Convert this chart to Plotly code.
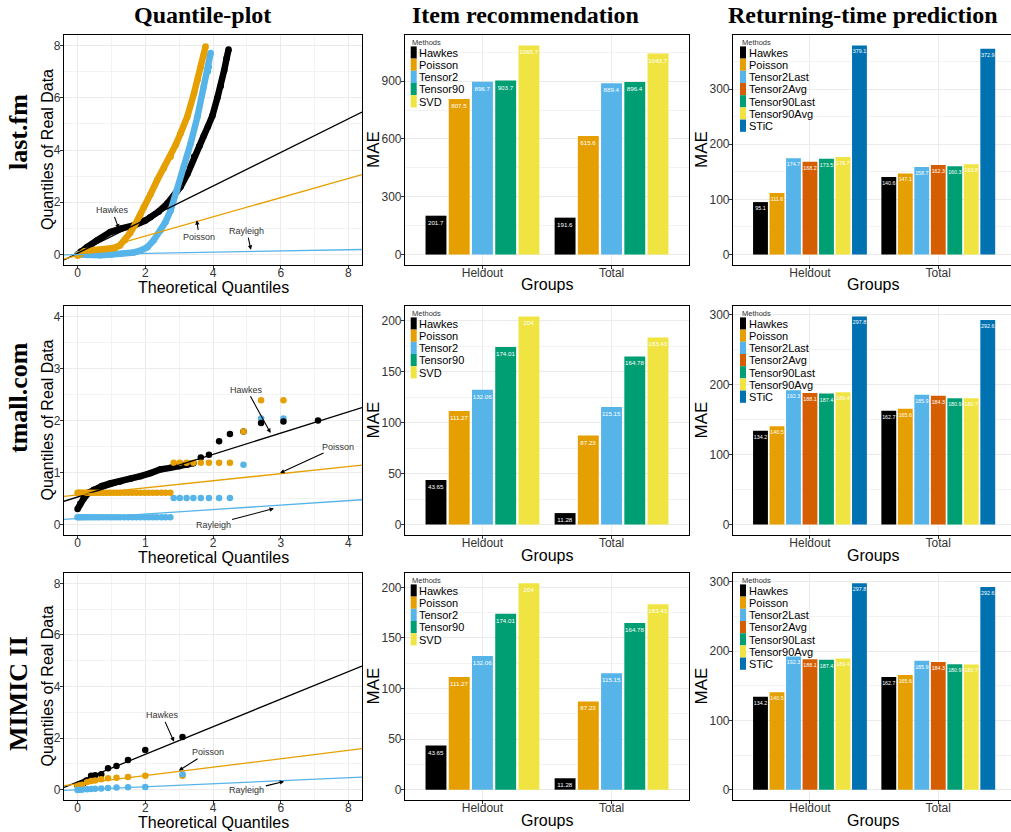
import plotly.graph_objects as go

W, H = 1011, 832

# ---------------- data ----------------
groups = ["Heldout", "Total"]
item_methods = ["Hawkes", "Poisson", "Tensor2", "Tensor90", "SVD"]
item_colors = ["#000000", "#E69F00", "#56B4E9", "#009E73", "#F0E442"]
ret_methods = ["Hawkes", "Poisson", "Tensor2Last", "Tensor2Avg", "Tensor90Last", "Tensor90Avg", "STiC"]
ret_colors = ["#000000", "#E69F00", "#56B4E9", "#D55E00", "#009E73", "#F0E442", "#0072B2"]

lastfm_item_heldout = [201.7, 807.5, 896.7, 903.7, 1085.7]
lastfm_item_total = [191.6, 615.6, 889.4, 896.4, 1043.7]
tmall_item_heldout = [43.65, 111.27, 132.06, 174.01, 204]
tmall_item_total = [11.28, 87.23, 115.15, 164.78, 183.43]
mimic_item_heldout = [43.65, 111.27, 132.06, 174.01, 204]
mimic_item_total = [11.28, 87.23, 115.15, 164.78, 183.43]

lastfm_ret_heldout = [95.1, 111.6, 174.7, 168.2, 173.5, 176.7, 379.1]
lastfm_ret_total = [140.6, 147.1, 158.7, 162.3, 160.3, 163.8, 372.9]
tmall_ret_heldout = [134.2, 140.5, 192.3, 188.1, 187.4, 189.4, 297.8]
tmall_ret_total = [162.7, 165.6, 185.9, 184.3, 180.9, 180.7, 292.6]
mimic_ret_heldout = [134.2, 140.5, 192.3, 188.1, 187.4, 189.4, 297.8]
mimic_ret_total = [162.7, 165.6, 185.9, 184.3, 180.9, 180.7, 292.6]

# QQ: last.fm
lf_hawkes_x = [0, 0.1, 0.28, 0.57, 0.97, 1.3, 1.66, 2.0, 2.15, 2.4, 2.65, 2.85, 3.04, 3.25, 3.44, 3.6, 3.73, 3.85, 3.98, 4.13, 4.23, 4.33, 4.4, 4.46]
lf_hawkes_y = [0, 0.12, 0.28, 0.54, 0.86, 1.0, 1.11, 1.3, 1.43, 1.65, 1.95, 2.25, 2.59, 3.1, 3.74, 4.15, 4.55, 4.9, 5.3, 6.0, 6.45, 7.05, 7.5, 7.85]
lf_poisson_x = [0, 0.2, 0.5, 0.8, 1.1, 1.25, 1.4, 1.55, 1.7, 1.85, 1.96, 2.15, 2.35, 2.55, 2.75, 2.9, 3.04, 3.24, 3.44, 3.55, 3.64, 3.72, 3.78]
lf_poisson_y = [-0.05, 0.12, 0.17, 0.2, 0.25, 0.35, 0.55, 0.82, 1.15, 1.5, 1.82, 2.3, 2.84, 3.3, 3.74, 4.2, 4.63, 5.27, 6.17, 6.7, 7.19, 7.6, 7.96]
lf_rayleigh_x = [0, 0.3, 0.67, 1.0, 1.3, 1.66, 1.85, 2.06, 2.25, 2.45, 2.6, 2.75, 2.94, 3.14, 3.34, 3.54, 3.73, 3.85, 3.88, 3.93]
lf_rayleigh_y = [0, -0.02, -0.03, 0.0, 0.03, 0.08, 0.15, 0.28, 0.55, 0.92, 1.25, 1.69, 2.46, 3.35, 4.25, 5.27, 6.43, 7.0, 7.19, 7.71]
lf_line_intercept = [0.05, -0.03, 0.0]     # Hawkes, Poisson, Rayleigh
lf_line_slope = [0.643, 0.368, 0.023]

# QQ: tmall.com
tm_hawkes_curve_x = [0, 0.04, 0.09, 0.16, 0.24, 0.36, 0.48, 0.63, 0.78, 0.93, 1.08, 1.22, 1.37, 1.5, 1.62, 1.71]
tm_hawkes_curve_y = [0.30, 0.40, 0.50, 0.61, 0.67, 0.74, 0.79, 0.83, 0.88, 0.93, 0.99, 1.06, 1.09, 1.12, 1.15, 1.18]
tm_hawkes_pts_x = [1.82, 1.94, 2.09, 2.25, 2.45, 2.71, 3.04, 3.55]
tm_hawkes_pts_y = [1.29, 1.34, 1.60, 1.74, 1.79, 1.95, 1.98, 2.00]
tm_low_x = [0, 0.02, 0.04, 0.07, 0.1, 0.13, 0.17, 0.21, 0.25, 0.29, 0.33, 0.38, 0.43, 0.48, 0.53, 0.58, 0.63, 0.69, 0.75, 0.81, 0.87, 0.93, 0.99, 1.05, 1.11, 1.17, 1.24, 1.3, 1.37]
tm_poisson_low_y = [0.61] * 29
tm_rayleigh_low_y = [0.14] * 29
tm_upper_x = [1.42, 1.51, 1.61, 1.71, 1.82, 1.94, 2.09, 2.25, 2.45, 2.71, 3.04]
tm_poisson_upper_y = [1.19, 1.19, 1.19, 1.19, 1.19, 1.19, 1.19, 1.19, 1.79, 2.39, 2.39]
tm_rayleigh_upper_y = [0.51, 0.51, 0.51, 0.51, 0.51, 0.51, 0.51, 0.51, 1.15, 2.04, 2.04]
tm_line_intercept = [0.53, 0.57, 0.116]
tm_line_slope = [0.409, 0.136, 0.086]

# QQ: MIMIC II
mm_hawkes_x = [0.0, 0.03, 0.13, 0.18, 0.26, 0.40, 0.52, 0.70, 0.90, 1.15, 1.49, 2.0, 3.10]
mm_hawkes_y = [0.15, 0.19, 0.24, 0.26, 0.36, 0.54, 0.56, 0.60, 0.83, 0.92, 1.15, 1.54, 2.04]
mm_poisson_x = [0.0, 0.03, 0.13, 0.28, 0.40, 0.52, 0.70, 0.90, 1.15, 1.49, 2.0, 3.10]
mm_poisson_y = [0.16, 0.17, 0.19, 0.30, 0.34, 0.36, 0.40, 0.44, 0.46, 0.49, 0.54, 0.54]
mm_rayleigh_x = [0.0, 0.03, 0.13, 0.28, 0.40, 0.52, 0.70, 0.90, 1.15, 1.49, 2.0, 3.10]
mm_rayleigh_y = [-0.01, 0.0, 0.0, 0.02, 0.03, 0.04, 0.05, 0.07, 0.08, 0.09, 0.10, 0.60]
mm_line_intercept = [0.3, 0.22, 0.0]
mm_line_slope = [0.535, 0.163, 0.058]

qq_labels = ["Hawkes", "Poisson", "Rayleigh"]
qq_colors = ["#000000", "#E69F00", "#56B4E9"]
# annotation (text position -> arrow head) per row
lf_annot = [(1.02, 1.69, 1.22, 0.99), (3.59, 0.69, 3.52, 1.31), (5.0, 0.9, 5.12, 0.18)]
tm_annot = [(2.50, 2.59, 2.85, 1.76), (3.84, 1.50, 2.99, 0.99), (2.0, 0.0, 2.90, 0.31)]
mm_annot = [(2.50, 2.88, 2.85, 1.86), (3.85, 1.45, 2.99, 0.74), (5.0, -0.03, 6.10, 0.32)]

col_titles = ["Quantile-plot", "Item recommendation", "Returning-time prediction"]
row_titles = ["last.fm", "tmall.com", "MIMIC II"]

# ---------------- layout geometry (pixels) ----------------
cols_px = [(64, 362), (405, 689), (733, 1011)]
rows_px = [(35, 265), (306, 535), (573, 800)]


def px(x):
    return x / W


def py(y):
    return 1 - y / H


def xtitle_y(y1):
    # keep the bottom-row titles inside the page
    return min(y1 + 21, H - 10)


fig = go.Figure()
layout = dict(
    width=W, height=H, margin=dict(l=0, r=0, t=0, b=0),
    paper_bgcolor="white", plot_bgcolor="white", showlegend=False,
    barmode="group", bargap=0.1, bargroupgap=0.1,
    font=dict(family="Liberation Sans", color="#000"),
)
annotations = []
shapes = []

GRID = "#EBEBEB"
MINOR = "#F3F3F3"
TICKFONT = dict(family="Liberation Sans", size=12, color="#333333")


def paper_text(x, y, text, size, family="Liberation Sans", angle=0, xanchor="center", color="black"):
    annotations.append(dict(x=px(x), y=py(y), xref="paper", yref="paper", text=text,
                            showarrow=False, textangle=angle, xanchor=xanchor, yanchor="middle",
                            font=dict(family=family, size=size, color=color)))


def axname(k):
    return ("x", "y") if k == 1 else (f"x{k}", f"y{k}")


def base_axis(mirror=True, standoff=0):
    return dict(showline=True, linecolor="black", linewidth=1.2, mirror=mirror,
                ticks="outside", ticklen=3, tickcolor="#333333", tickfont=TICKFONT,
                ticklabelstandoff=standoff,
                showgrid=True, gridcolor=GRID, gridwidth=1, zeroline=False)


def add_qq(r, series, lines, annots, xr, yr, dt):
    k = r * 3 + 1
    xa, ya = axname(k)
    for s in series:
        xs, ys, ci, dense = s
        fig.add_trace(go.Scatter(
            x=xs, y=ys, mode="lines+markers" if dense else "markers",
            line=dict(color=qq_colors[ci], width=6.5),
            marker=dict(size=6.5, color=qq_colors[ci]),
            xaxis=xa, yaxis=ya, hoverinfo="skip"))
    icpt, slp = lines
    for i in range(3):
        fig.add_trace(go.Scatter(
            x=[xr[0], xr[1]], y=[icpt[i] + slp[i] * xr[0], icpt[i] + slp[i] * xr[1]],
            mode="lines", line=dict(color=qq_colors[i], width=1.3),
            xaxis=xa, yaxis=ya, hoverinfo="skip"))
    for i, (tx, ty, hx, hy) in enumerate(annots):
        annotations.append(dict(
            x=hx, y=hy, ax=tx, ay=ty, xref=xa, yref=ya, axref=xa, ayref=ya,
            text=qq_labels[i], showarrow=True, arrowhead=2, arrowsize=0.8,
            arrowwidth=1.1, arrowcolor="black", standoff=0,
            font=dict(family="Liberation Sans", size=9, color="#333333")))
    (x0, x1), (y0, y1) = cols_px[0], rows_px[r]
    xd = base_axis(standoff=-7)
    xd.update(domain=[px(x0), px(x1)], range=xr, anchor=ya, tickmode="linear", tick0=0, dtick=dt,
              minor=dict(dtick=dt / 2, showgrid=True, gridcolor=MINOR, gridwidth=0.7))
    yd = base_axis(standoff=-3)
    yd.update(domain=[py(y1), py(y0)], range=yr, anchor=xa, tickmode="linear", tick0=0, dtick=dt,
              minor=dict(dtick=dt / 2, showgrid=True, gridcolor=MINOR, gridwidth=0.7))
    layout["xaxis" if k == 1 else f"xaxis{k}"] = xd
    layout["yaxis" if k == 1 else f"yaxis{k}"] = yd
    paper_text((x0 + x1) / 2, xtitle_y(y1 + 1), "Theoretical Quantiles", 16)
    paper_text(47, (y0 + y1) / 2, "Quantiles of Real Data", 16, angle=-90)


def add_bars(r, c, methods, colors, held, total, dt, tsize, leg_off):
    k = r * 3 + c + 1
    xa, ya = axname(k)
    for i, m in enumerate(methods):
        vals = [held[i], total[i]]
        fig.add_trace(go.Bar(
            x=groups, y=vals, name=m, marker=dict(color=colors[i], line=dict(width=0)),
            text=[f"{v:g}" for v in vals], textposition="inside", insidetextanchor="end",
            textangle=0, constraintext="none",
            textfont=dict(family="Liberation Sans", size=tsize, color="white"),
            xaxis=xa, yaxis=ya, hoverinfo="skip"))
    (x0, x1), (y0, y1) = cols_px[c], rows_px[r]
    vmax = max(max(held), max(total))
    unit = (x1 - x0) / 2.2 if c == 1 else 128.3
    xr = [-0.6, -0.6 + (x1 - x0) / unit]
    xd = base_axis(standoff=-7)
    xd.update(domain=[px(x0), px(x1)], type="category", range=xr, anchor=ya)
    yd = base_axis(mirror=(c != 2), standoff=-3)
    yd.update(domain=[py(y1), py(y0)], range=[-0.05 * vmax, 1.05 * vmax], anchor=xa,
              tickmode="linear", tick0=0, dtick=dt,
              minor=dict(dtick=dt / 2, showgrid=True, gridcolor=MINOR, gridwidth=0.7))
    layout["xaxis" if k == 1 else f"xaxis{k}"] = xd
    layout["yaxis" if k == 1 else f"yaxis{k}"] = yd
    gx = (x0 + x1) / 2 if c == 1 else 873
    paper_text(gx, xtitle_y(y1 - 1), "Groups", 16)
    paper_text(x0 - 32, (y0 + y1) / 2, "MAE", 17, angle=-90)
    # legend (drawn manually, compact like ggplot)
    lx = x0 + leg_off
    step = 12.2
    n = len(methods)
    maxlen = max(len(m) for m in methods)
    shapes.append(dict(type="rect", xref="paper", yref="paper", layer="between",
                       x0=px(lx - 2), x1=px(lx + 8 + maxlen * 6.3), y0=py(y0 + 11.4 + n * step + 1),
                       y1=py(y0 + 3), fillcolor="white", line=dict(width=0)))
    paper_text(lx - 0.5, y0 + 7.6, "Methods", 7.5, xanchor="left", color="#333333")
    for i, m in enumerate(methods):
        ytop = y0 + 11.4 + i * step
        shapes.append(dict(type="rect", xref="paper", yref="paper", layer="above",
                           x0=px(lx), x1=px(lx + 6), y0=py(ytop + step), y1=py(ytop),
                           fillcolor=colors[i], line=dict(width=0)))
        paper_text(lx + 6.5, ytop + step / 2 + 0.3, m, 11, xanchor="left")


# QQ panels (draw order roughly as in reference)
add_qq(0, [(lf_hawkes_x, lf_hawkes_y, 0, True), (lf_rayleigh_x, lf_rayleigh_y, 2, True),
           (lf_poisson_x, lf_poisson_y, 1, True)],
       (lf_line_intercept, lf_line_slope), lf_annot, [-0.4, 8.4], [-0.4, 8.4], 2)
add_qq(1, [(tm_low_x, tm_rayleigh_low_y, 2, False), (tm_upper_x, tm_rayleigh_upper_y, 2, False),
           (tm_hawkes_curve_x, tm_hawkes_curve_y, 0, True), (tm_hawkes_pts_x, tm_hawkes_pts_y, 0, False),
           (tm_low_x, tm_poisson_low_y, 1, False), (tm_upper_x, tm_poisson_upper_y, 1, False)],
       (tm_line_intercept, tm_line_slope), tm_annot, [-0.2, 4.2], [-0.2, 4.2], 1)
add_qq(2, [(mm_hawkes_x, mm_hawkes_y, 0, False), (mm_poisson_x, mm_poisson_y, 1, False),
           (mm_rayleigh_x, mm_rayleigh_y, 2, False)],
       (mm_line_intercept, mm_line_slope), mm_annot, [-0.4, 8.4], [-0.4, 8.4], 2)

add_bars(0, 1, item_methods, item_colors, lastfm_item_heldout, lastfm_item_total, 300, 6.2, 5.7)
add_bars(1, 1, item_methods, item_colors, tmall_item_heldout, tmall_item_total, 50, 6.2, 5.7)
add_bars(2, 1, item_methods, item_colors, mimic_item_heldout, mimic_item_total, 50, 6.2, 5.7)
add_bars(0, 2, ret_methods, ret_colors, lastfm_ret_heldout, lastfm_ret_total, 100, 5.3, 7.0)
add_bars(1, 2, ret_methods, ret_colors, tmall_ret_heldout, tmall_ret_total, 100, 5.3, 7.0)
add_bars(2, 2, ret_methods, ret_colors, mimic_ret_heldout, mimic_ret_total, 100, 5.3, 7.0)

# column titles and row labels
for cx, t in zip([202, 525, 863], col_titles):
    paper_text(cx, 15, f"<b>{t}</b>", 24, family="Liberation Serif")
for cy, t in zip([132, 398, 694], row_titles):
    paper_text(18, cy, f"<b>{t}</b>", 26, family="Liberation Serif", angle=-90)

layout["annotations"] = annotations
layout["shapes"] = shapes
fig.update_layout(**layout)
fig.write_html("out.html", config={"displayModeBar": False},
               post_script="document.body.style.margin='0px';document.body.style.overflow='hidden';")
